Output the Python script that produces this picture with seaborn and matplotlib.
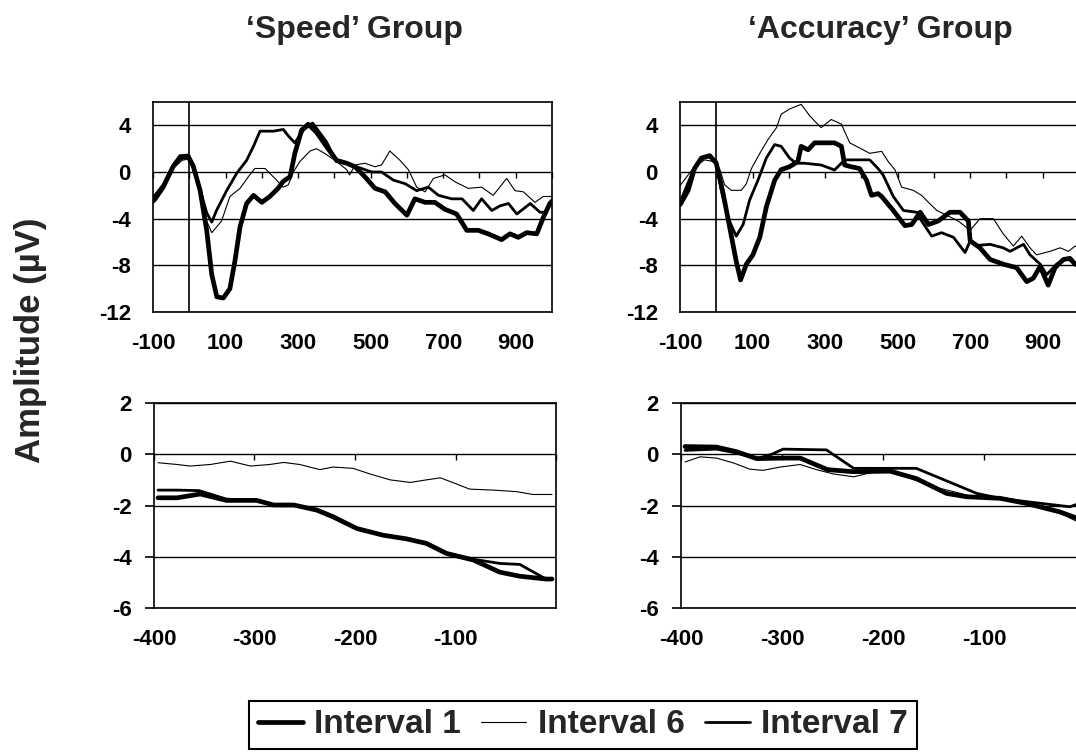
import matplotlib
matplotlib.use("Agg")
import matplotlib.pyplot as plt
from matplotlib.lines import Line2D
from matplotlib.ticker import NullFormatter
import pandas as pd
import seaborn as sns

# ---------------- stimulus-locked ERPs (time in ms, amplitude in µV) ----------------
speed_stim_i1_t = [-100, -94, -72, -44, -26, -3, 11, 30, 48, 62, 76, 94, 112, 126, 140, 158, 177,
                   200, 222, 245, 259, 278, 291, 310, 328, 351, 378, 406, 434, 457, 484, 512, 540,
                   567, 600, 622, 650, 677, 705, 737, 765, 797, 824, 861, 884, 907, 930, 958, 976,
                   994, 1000]
speed_stim_i1_v = [-2.5, -2.3, -1.3, 0.5, 1.2, 1.35, 0.5, -1.6, -5.0, -8.8, -10.7, -10.8, -10.0,
                   -7.6, -4.7, -2.7, -2.0, -2.6, -2.1, -1.4, -0.8, -0.4, 1.6, 3.6, 4.1, 3.4, 2.2,
                   1.0, 0.75, 0.45, -0.4, -1.4, -1.7, -2.7, -3.7, -2.3, -2.6, -2.6, -3.2, -3.6,
                   -5.0, -5.0, -5.3, -5.8, -5.3, -5.6, -5.2, -5.3, -3.9, -2.7, -2.5]

speed_stim_i6_t = [-100, -72, -44, -20, -5, 11, 30, 48, 62, 89, 112, 140, 163, 181, 209, 236, 259,
                   273, 287, 305, 333, 351, 378, 406, 434, 442, 457, 484, 512, 530, 553, 581, 604,
                   627, 650, 673, 705, 733, 769, 806, 838, 875, 898, 921, 953, 976, 1000]
speed_stim_i6_v = [-2.3, -1.2, 0.3, 1.0, 1.1, 0.3, -1.6, -4.2, -5.2, -4.2, -2.1, -1.4, -0.4, 0.3,
                   0.3, -0.55, -1.3, -1.1, 0.0, 0.9, 1.8, 2.0, 1.5, 0.9, 0.2, -0.25, 0.6, 0.75,
                   0.45, 0.6, 1.8, 1.0, 0.2, -1.3, -1.7, -0.55, -0.25, -0.85, -1.4, -1.3, -2.0,
                   -0.55, -1.6, -1.7, -2.6, -2.1, -2.1]

speed_stim_i7_t = [-100, -72, -44, -26, -3, 11, 30, 48, 62, 75, 103, 131, 158, 177, 195, 232, 259,
                   273, 291, 315, 340, 378, 406, 434, 475, 503, 530, 563, 595, 627, 659, 687, 724,
                   752, 783, 806, 834, 857, 880, 903, 940, 967, 980, 1000]
speed_stim_i7_v = [-2.2, -1.1, 0.6, 1.4, 1.45, 0.5, -1.5, -3.5, -4.3, -3.3, -1.6, -0.1, 1.0, 2.2,
                   3.5, 3.5, 3.65, 3.1, 2.5, 3.6, 4.2, 2.6, 0.9, 0.75, 0.3, 0.0, 0.0, -0.7, -1.0,
                   -1.6, -1.3, -2.0, -2.3, -2.3, -3.3, -2.3, -3.3, -2.9, -2.7, -3.6, -2.7, -3.45,
                   -3.45, -2.6]

acc_stim_i1_t = [-100, -96, -78, -60, -41, -18, 0, 19, 37, 55, 67, 83, 101, 120, 138, 161, 179,
                 202, 225, 234, 253, 271, 299, 326, 345, 354, 372, 395, 414, 428, 446, 456, 488,
                 520, 539, 562, 585, 612, 644, 672, 695, 700, 727, 755, 791, 828, 856, 874, 893,
                 915, 934, 957, 975, 989, 1000]
acc_stim_i1_v = [-2.8, -2.6, -1.6, 0.3, 1.2, 1.4, 0.75, -1.85, -4.75, -7.65, -9.25, -7.9, -7.1,
                 -5.6, -3.0, -0.7, 0.2, 0.45, 0.9, 2.2, 1.9, 2.5, 2.5, 2.5, 2.2, 0.6, 0.45, 0.3,
                 -0.7, -2.0, -1.85, -2.1, -3.3, -4.6, -4.5, -3.45, -4.5, -4.2, -3.45, -3.45, -4.2,
                 -5.9, -6.5, -7.5, -7.9, -8.2, -9.4, -9.1, -8.1, -9.7, -8.2, -7.5, -7.4, -7.9,
                 -8.0]

acc_stim_i6_t = [-100, -96, -60, -32, -9, 9, 23, 41, 69, 83, 97, 120, 143, 166, 179, 202, 234,
                 258, 289, 317, 345, 368, 395, 423, 456, 474, 493, 511, 543, 566, 585, 608, 635,
                 667, 700, 727, 764, 791, 819, 842, 865, 883, 920, 948, 971, 989, 1000]
acc_stim_i6_v = [-1.2, -1.0, 0.46, 1.04, 0.9, 0.3, -1.1, -1.57, -1.57, -1.0, 0.3, 1.6, 2.8, 3.8,
                 4.95, 5.4, 5.8, 4.8, 3.8, 4.5, 4.1, 2.5, 2.06, 1.6, 1.77, 0.9, 0.17, -1.3, -1.57,
                 -2.0, -2.6, -3.3, -3.7, -4.2, -5.0, -4.0, -4.0, -5.3, -6.35, -5.5, -6.5, -7.1,
                 -6.8, -6.5, -6.8, -6.35, -6.5]

acc_stim_i7_t = [-100, -96, -60, -41, -20, 0, 14, 32, 55, 74, 92, 115, 138, 161, 179, 202, 220,
                 243, 289, 326, 354, 381, 423, 446, 460, 488, 516, 553, 566, 594, 621, 654, 686,
                 700, 718, 755, 791, 810, 847, 865, 893, 911, 938, 966, 989, 1000]
acc_stim_i7_v = [-2.5, -2.3, 0.4, 1.2, 1.3, 0.9, -1.6, -3.9, -5.5, -4.5, -2.4, -0.7, 1.2, 2.35,
                 2.2, 1.2, 0.75, 0.75, 0.6, 0.17, 1.04, 1.04, 1.04, 0.3, -0.26, -2.1, -3.3, -3.45,
                 -4.2, -5.5, -5.2, -5.6, -6.9, -5.9, -6.3, -6.2, -6.5, -6.8, -6.2, -7.1, -7.9,
                 -8.8, -7.9, -7.4, -7.8, -8.0]

# ---------------- response-locked ERPs (time before response, ms) ----------------
speed_resp_i1_t = [-396, -377, -354, -328, -298, -281, -261, -238, -222, -198, -172, -149, -129,
                   -109, -82, -56, -36, -10, -4]
speed_resp_i1_v = [-1.7, -1.7, -1.55, -1.8, -1.8, -1.98, -1.98, -2.18, -2.44, -2.9, -3.16, -3.3,
                   -3.48, -3.87, -4.13, -4.6, -4.76, -4.87, -4.87]

speed_resp_i6_t = [-396, -377, -364, -344, -324, -304, -285, -271, -255, -235, -222, -202, -185,
                   -165, -145, -129, -115, -99, -86, -62, -39, -23, -10, -4]
speed_resp_i6_v = [-0.33, -0.4, -0.46, -0.4, -0.27, -0.46, -0.4, -0.32, -0.4, -0.6, -0.5, -0.55,
                   -0.77, -1.0, -1.1, -1.0, -0.92, -1.16, -1.36, -1.4, -1.46, -1.57, -1.57, -1.57]

speed_resp_i7_t = [-396, -377, -355, -328, -298, -281, -261, -238, -222, -198, -172, -149, -129,
                   -109, -82, -56, -36, -10, -4]
speed_resp_i7_v = [-1.4, -1.4, -1.42, -1.75, -1.8, -1.98, -1.98, -2.15, -2.4, -2.9, -3.15, -3.3,
                   -3.45, -3.85, -4.1, -4.26, -4.3, -4.87, -4.87]

acc_resp_i1_t = [-396, -365, -345, -325, -300, -282, -255, -230, -193, -167, -137, -117, -84,
                 -58, -25, -4]
acc_resp_i1_v = [0.3, 0.28, 0.1, -0.17, -0.15, -0.15, -0.6, -0.68, -0.66, -0.95, -1.53, -1.66,
                 -1.72, -1.92, -2.25, -2.55]

acc_resp_i6_t = [-396, -381, -365, -348, -332, -319, -302, -282, -266, -249, -229, -210, -193,
                 -177, -160, -144, -130, -111, -84, -58, -35, -9, -4]
acc_resp_i6_v = [-0.3, -0.1, -0.15, -0.34, -0.58, -0.63, -0.5, -0.4, -0.6, -0.77, -0.88, -0.7,
                 -0.66, -0.88, -1.13, -1.33, -1.46, -1.66, -1.72, -1.92, -2.1, -2.6, -2.7]

acc_resp_i7_t = [-396, -365, -345, -325, -310, -299, -256, -229, -193, -167, -107, -84, -58,
                 -15, -4]
acc_resp_i7_v = [0.15, 0.2, 0.05, -0.17, 0.0, 0.2, 0.17, -0.55, -0.55, -0.55, -1.53, -1.72,
                 -1.85, -2.05, -1.9]

intervals = ["Interval 1", "Interval 6", "Interval 7"]
group_titles = ["\u2018Speed\u2019 Group", "\u2018Accuracy\u2019 Group"]

stim_xticklabels = [-100, 100, 300, 500, 700, 900]
stim_minor = list(range(-100, 1001, 100))
stim_yticks = [-12, -8, -4, 0, 4]
resp_xticklabels = [-400, -300, -200, -100]
resp_minor = [-400, -300, -200, -100, 0]
resp_yticks = [-6, -4, -2, 0, 2]

line_widths = {"Interval 1": 3.4, "Interval 6": 0.8, "Interval 7": 2.0}


def long_frame(series):
    parts = []
    for name, (t, v) in zip(intervals, series):
        parts.append(pd.DataFrame({"time": t, "amp": v, "interval": name}))
    return pd.concat(parts, ignore_index=True)


sns.set_style("white")
plt.rcParams["font.family"] = ["Liberation Sans", "DejaVu Sans"]
plt.rcParams["font.weight"] = "bold"
plt.rcParams["axes.unicode_minus"] = False

W, H = 1076, 753
fig = plt.figure(figsize=(W / 100, H / 100), dpi=100)
fig.patch.set_facecolor("white")


def rect(left, top, right, bottom):
    return [left / W, 1 - bottom / H, (right - left) / W, (bottom - top) / H]


panels = [
    (rect(153, 102, 552, 312), long_frame([(speed_stim_i1_t, speed_stim_i1_v),
                                            (speed_stim_i6_t, speed_stim_i6_v),
                                            (speed_stim_i7_t, speed_stim_i7_v)]), "stim"),
    (rect(680, 102, 1079, 312), long_frame([(acc_stim_i1_t, acc_stim_i1_v),
                                             (acc_stim_i6_t, acc_stim_i6_v),
                                             (acc_stim_i7_t, acc_stim_i7_v)]), "stim"),
    (rect(154, 403, 556, 608), long_frame([(speed_resp_i1_t, speed_resp_i1_v),
                                            (speed_resp_i6_t, speed_resp_i6_v),
                                            (speed_resp_i7_t, speed_resp_i7_v)]), "resp"),
    (rect(681, 403, 1085, 608), long_frame([(acc_resp_i1_t, acc_resp_i1_v),
                                             (acc_resp_i6_t, acc_resp_i6_v),
                                             (acc_resp_i7_t, acc_resp_i7_v)]), "resp"),
]

for pos, df, kind in panels:
    ax = fig.add_axes(pos)
    if kind == "stim":
        xlim, ylim, yticks, xlabels, minor = (-100, 1000), (-12, 6), stim_yticks, stim_xticklabels, stim_minor
    else:
        xlim, ylim, yticks, xlabels, minor = (-400, 0), (-6, 2), resp_yticks, resp_xticklabels, resp_minor

    sns.lineplot(data=df, x="time", y="amp", hue="interval", size="interval",
                 hue_order=intervals, size_order=intervals,
                 palette={k: "black" for k in intervals}, sizes=line_widths,
                 estimator=None, sort=False, legend=False, ax=ax, zorder=3)

    ax.set_xlim(*xlim)
    ax.set_ylim(*ylim)
    ax.set_xlabel("")
    ax.set_ylabel("")
    ax.set_yticks(yticks)
    ax.set_xticks(xlabels)
    ax.yaxis.grid(True, color="black", linewidth=1.0, zorder=1)
    ax.xaxis.grid(False)
    for sp in ax.spines.values():
        sp.set_visible(True)
        sp.set_color("black")
        sp.set_linewidth(1.2)
    ax.tick_params(axis="x", length=0, pad=15, labelsize=16, colors="black")
    if kind == "stim":
        ax.axvline(0, color="black", linewidth=1.2, zorder=2)
        ax.tick_params(axis="y", length=0, pad=16, labelsize=16, colors="black")
    else:
        ax.tick_params(axis="y", direction="out", length=6.5, width=1.2, pad=9.5,
                       labelsize=16, colors="black", left=True)
    for lab in ax.get_xticklabels() + ax.get_yticklabels():
        lab.set_fontweight("bold")

    # category tick marks hanging below the zero line
    zero_frac = (0 - ylim[0]) / (ylim[1] - ylim[0])
    sec = ax.secondary_xaxis(zero_frac)
    sec.set_alignment("bottom")
    sec.set_xticks(minor)
    sec.xaxis.set_major_formatter(NullFormatter())
    sec.tick_params(axis="x", direction="out", length=4.5, width=1.0, colors="black",
                    bottom=True, top=False, labelbottom=False, labeltop=False)
    for sp in sec.spines.values():
        sp.set_visible(False)

# group titles and shared y label
fig.text(355 / W, 1 - 30 / H, group_titles[0], ha="center", va="center",
         fontsize=23, fontweight="bold")
fig.text(880 / W, 1 - 30 / H, group_titles[1], ha="center", va="center",
         fontsize=23, fontweight="bold")
fig.text(31 / W, 1 - 340 / H, "Amplitude (\u00b5V)", rotation=90, ha="center", va="center",
         fontsize=25, fontweight="bold")

handles = [Line2D([], [], color="black", linewidth=line_widths[k]) for k in intervals]
leg = fig.legend(handles, intervals, loc="upper center", ncol=3,
                 bbox_to_anchor=(583 / W, 1 - 701 / H), frameon=True, fancybox=False,
                 edgecolor="black", framealpha=1, fontsize=24, handlelength=1.35,
                 handletextpad=0.35, columnspacing=0.6, borderpad=0.25, borderaxespad=0)
leg.get_frame().set_linewidth(1.5)
for txt in leg.get_texts():
    txt.set_fontweight("bold")

fig.savefig("out.png", dpi=100, facecolor="white")
